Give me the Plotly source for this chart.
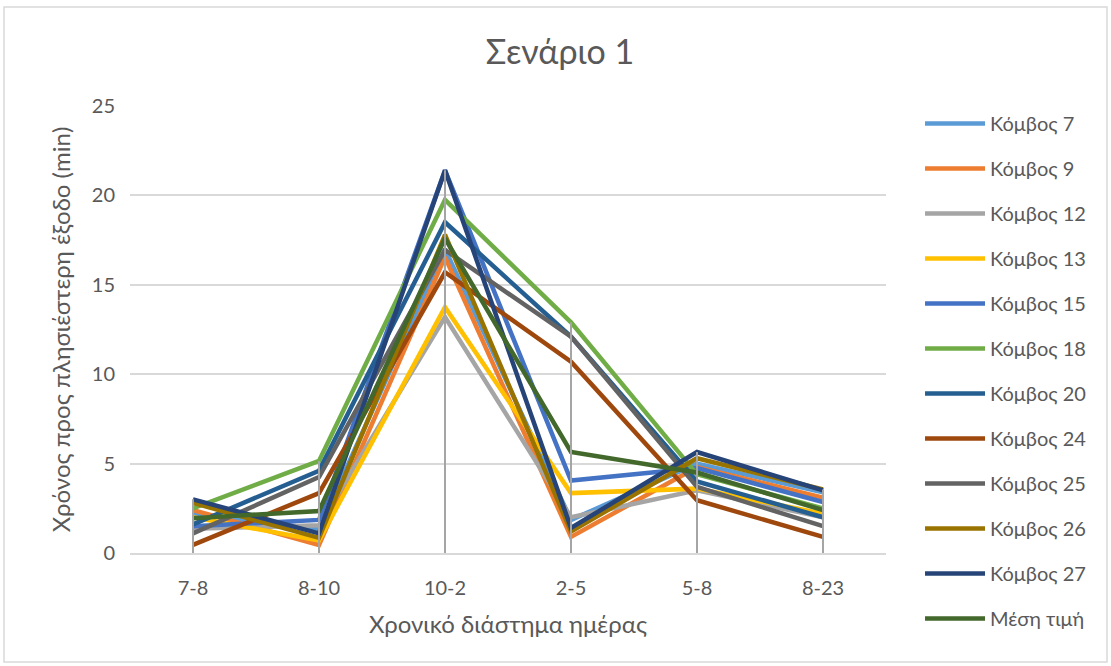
import plotly.graph_objects as go

# Time-of-day intervals
periods = ["7-8", "8-10", "10-2", "2-5", "5-8", "8-23"]

# Time to nearest exit (min) per node
node_7 = [2.2, 1.35, 17.0, 1.85, 5.0, 3.4]
node_9 = [2.4, 0.45, 16.55, 0.9, 4.8, 3.1]
node_12 = [1.35, 1.55, 13.2, 2.0, 3.5, 2.0]
node_13 = [2.0, 0.7, 13.75, 3.35, 3.6, 2.2]
node_15 = [1.5, 1.85, 21.4, 4.05, 4.75, 2.85]
node_18 = [2.5, 5.15, 19.75, 12.9, 4.4, 2.5]
node_20 = [1.6, 4.6, 18.5, 12.1, 4.0, 2.0]
node_24 = [0.45, 3.35, 15.7, 10.7, 2.95, 0.9]
node_25 = [1.1, 4.25, 16.95, 12.1, 3.7, 1.5]
node_26 = [2.8, 0.85, 17.8, 1.2, 5.3, 3.55]
node_27 = [3.0, 1.1, 21.4, 1.4, 5.65, 3.5]
mean_value = [1.95, 2.35, 17.6, 5.65, 4.5, 2.4]

series_names = ["Κόμβος 7", "Κόμβος 9", "Κόμβος 12", "Κόμβος 13", "Κόμβος 15",
                "Κόμβος 18", "Κόμβος 20", "Κόμβος 24", "Κόμβος 25", "Κόμβος 26",
                "Κόμβος 27", "Μέση τιμή"]
series_values = [node_7, node_9, node_12, node_13, node_15, node_18, node_20,
                 node_24, node_25, node_26, node_27, mean_value]
series_colors = ["#5B9BD5", "#ED7D31", "#A5A5A5", "#FFC000", "#4472C4", "#70AD47",
                 "#255E91", "#9E480E", "#636363", "#997300", "#264478", "#43682B"]

FONT = "Lato, 'Open Sans', sans-serif"
TEXT = "#595959"

fig = go.Figure()

for name, vals, col in zip(series_names, series_values, series_colors):
    fig.add_trace(go.Scatter(
        x=periods, y=vals, name=name, mode="lines",
        line=dict(color=col, width=4.5),
        legendgroup=name,
    ))

# Drop lines from the highest value at each interval down to zero
for i, p in enumerate(periods):
    top = max(v[i] for v in series_values)
    fig.add_trace(go.Scatter(
        x=[p, p], y=[0, top], mode="lines",
        line=dict(color="#A5A5A5", width=2),
        showlegend=False, hoverinfo="skip",
    ))

PLOT_H = 447
PLOT_W = 756

fig.update_layout(
    width=1111, height=666,
    paper_bgcolor="white", plot_bgcolor="white",
    margin=dict(l=130, r=225, t=106, b=113),
    font=dict(family=FONT, color=TEXT, size=20),
    title=dict(text="Σενάριο 1", x=0.504, xref="container", xanchor="center",
               y=1 - 52 / 666, yanchor="middle",
               font=dict(size=34, color=TEXT, family=FONT)),
    legend=dict(x=1.045, xanchor="left", y=(553 - 104) / PLOT_H, yanchor="top",
                font=dict(size=20, color=TEXT), tracegroupgap=16,
                itemwidth=60, bgcolor="rgba(0,0,0,0)", maxheight=1.0),
    showlegend=True,
    shapes=[dict(type="rect", xref="paper", yref="paper",
                 x0=-126 / PLOT_W, x1=(1107 - 130) / PLOT_W,
                 y0=-(662 - 553) / PLOT_H, y1=(553 - 7) / PLOT_H,
                 line=dict(color="#D9D9D9", width=1.5), layer="below")],
)

fig.update_xaxes(
    type="category", range=[-0.5, 5.5],
    showgrid=False, showline=True, linecolor="#D9D9D9", linewidth=1.5,
    ticks="", ticklabelstandoff=16,
    tickfont=dict(size=20, color=TEXT),
    title=dict(text="Χρονικό διάστημα ημέρας", font=dict(size=24, color=TEXT), standoff=18),
)
fig.update_yaxes(
    range=[0, 25], dtick=5, showgrid=True, gridcolor="#D9D9D9", gridwidth=1.5,
    zeroline=False, showline=False, ticks="", ticklabelstandoff=14,
    tickfont=dict(size=20, color=TEXT),
    title=dict(text="Χρόνος προς πλησιέστερη έξοδο (min)", font=dict(size=24, color=TEXT),
               standoff=14),
)

fig.write_html("out.html")
